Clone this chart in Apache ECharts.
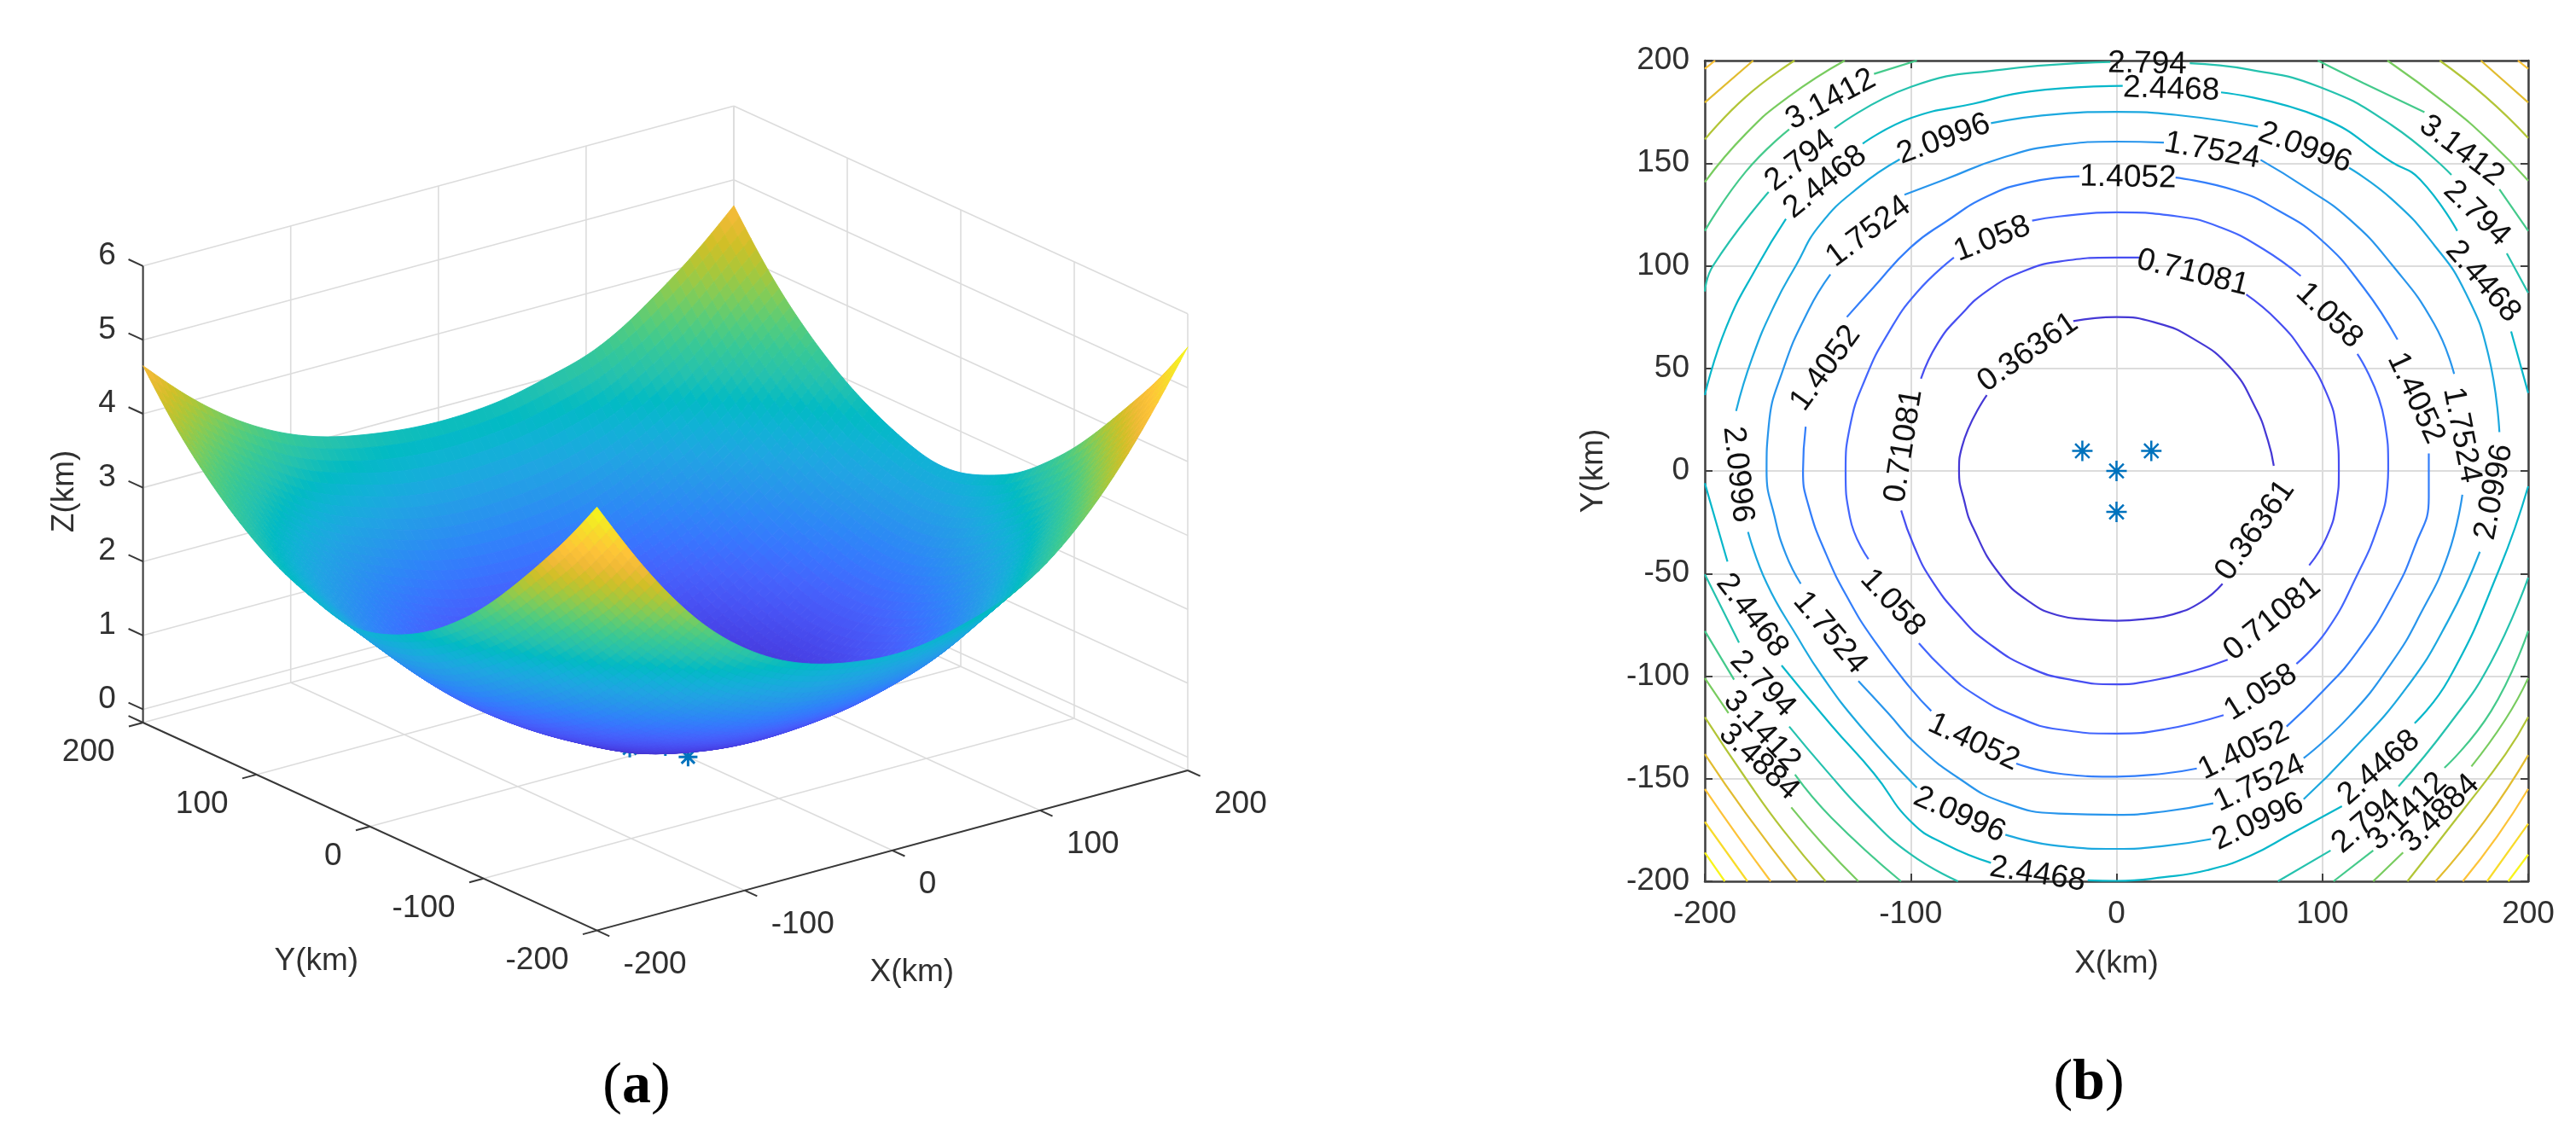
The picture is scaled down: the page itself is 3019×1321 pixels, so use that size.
<!DOCTYPE html>
<html><head><meta charset="utf-8"><style>html,body{margin:0;padding:0;background:#fff}#c{width:3019px;height:1321px}</style>
<script src="https://cdn.jsdelivr.net/npm/echarts@6/dist/echarts.min.js"></script></head><body><div id="c"></div>
<script>
// ---------- (a) surface heights (km), one list per X, Y = -200..200 step 25
const zXm200=[5.55,4.95,4.43,3.93,3.47,3.10,2.79,2.58,2.43,2.40,2.55,2.70,2.94,3.25,3.63,4.08,4.65];
const zXm175=[4.75,4.16,3.72,3.28,2.84,2.51,2.20,1.95,1.87,1.89,2.12,2.27,2.45,2.75,3.12,3.60,4.16];
const zXm150=[4.06,3.53,3.04,2.63,2.30,1.95,1.65,1.45,1.37,1.41,1.58,1.73,2.00,2.30,2.72,3.20,3.75];
const zXm125=[3.49,3.02,2.60,2.12,1.72,1.44,1.20,1.02,.95,.98,1.17,1.35,1.62,1.92,2.30,2.82,3.42];
const zXm100=[3.08,2.53,2.05,1.66,1.32,1.00,.80,.67,.63,.68,.83,.98,1.28,1.60,2.02,2.50,3.17];
const zXm75=[2.78,2.26,1.75,1.37,1.00,.76,.55,.42,.38,.42,.53,.70,.98,1.37,1.83,2.37,3.00];
const zXm50=[2.60,2.01,1.52,1.13,.81,.55,.30,.17,.14,.18,.30,.50,.78,1.17,1.67,2.20,2.90];
const zXm25=[2.50,1.93,1.45,1.04,.70,.41,.22,.09,.05,.09,.20,.40,.69,1.08,1.56,2.12,2.83];
const zX0=[2.45,1.92,1.39,1.02,.67,.385,.18,.06,.02,.05,.17,.36,.66,1.04,1.53,2.10,2.80];
const zX25=[2.49,1.94,1.46,1.04,.71,.43,.22,.09,.05,.10,.22,.42,.71,1.06,1.54,2.14,2.82];
const zX50=[2.63,2.02,1.55,1.15,.80,.55,.31,.18,.14,.18,.32,.55,.84,1.20,1.60,2.20,2.88];
const zX75=[2.78,2.27,1.72,1.37,1.02,.79,.55,.42,.37,.42,.54,.70,1.00,1.35,1.77,2.34,3.02];
const zX100=[3.05,2.56,2.12,1.66,1.31,1.00,.82,.67,.62,.67,.84,1.00,1.26,1.62,2.05,2.50,3.14];
const zX125=[3.49,3.02,2.60,2.12,1.70,1.41,1.20,1.04,.97,.99,1.17,1.35,1.62,1.92,2.33,2.84,3.40];
const zX150=[4.05,3.54,3.05,2.59,2.23,1.88,1.63,1.46,1.38,1.44,1.62,1.74,1.97,2.28,2.70,3.15,3.77];
const zX175=[4.75,4.18,3.71,3.12,2.76,2.48,2.18,1.96,1.88,1.93,2.03,2.14,2.45,2.77,3.17,3.66,4.16];
const zX200=[5.55,4.93,4.43,3.93,3.47,3.10,2.77,2.58,2.42,2.40,2.53,2.71,2.94,3.25,3.62,4.08,4.65];
const surfaceZ=[zXm200,zXm175,zXm150,zXm125,zXm100,zXm75,zXm50,zXm25,zX0,zX25,zX50,zX75,zX100,zX125,zX150,zX175,zX200];
const xyTicks3d=[-200,-100,0,100,200];
const zTicks3d=[0,1,2,3,4,5,6];
const zFloor=-0.18;
// sensors
const sensorX=[0,-16.6,16.9,0];
const sensorY=[0,9.8,9.8,-20];
// ---------- (b) contour lines; each level is a list of runs between its labels
const levels=[0.36361,0.71081,1.058,1.4052,1.7524,2.0996,2.4468,2.794,3.1412,3.4884,3.8356,4.18,4.53,4.87,5.22];
const c036=[[[-63,37],[-75,12],[-76.5,0],[-74,-14.5],[-69.5,-28],[-57,-50],[-42,-64],[-28,-70.5],[-14,-72.4],[0,-73],[13.5,-72.2],[27,-70],[41,-64],[51.5,-55]],
 [[76.4,2.5],[73.6,14.7],[67.4,31],[55,50.7],[37,64.6],[20,72],[0,75],[-21,73]]];
const c071=[[[-104.6,-19.3],[-98.4,-36.6],[-90,-53],[-76,-71],[-62.5,-83.7],[-42,-96],[-21,-102],[0,-104],[16,-102.4],[37,-97.6],[54,-92]],
 [[93.6,-46],[102,-32.4],[106.8,-15.8],[108,0],[106.8,20],[102,38],[90.8,57.6],[78.4,73],[63,86]],
 [[11,104],[0,104],[-28,102],[-46,97],[-62.5,88],[-76,75.7],[-87,62],[-95,45]]];
const c106=[[[-41,122],[-28,124],[0,126],[30,124],[50.8,118.6],[71.5,108],[89.5,95]],
 [[117,57],[130.2,24.4],[132,1],[131.6,-7.5],[127,-27],[117,-50.5],[102,-78],[87.4,-94]],
 [[52,-119],[23,-126],[0,-128],[-28,-126],[-48.7,-119.7],[-69.4,-108.7],[-83,-97.6],[-96,-84]],
 [[-120.5,-43],[-129.5,-22.7],[-131.6,0],[-129.5,21.6],[-122,45],[-111,67],[-97,87],[-79,104]]];
const c141=[[[28.7,143],[57.7,136.7],[78.4,127],[99,113],[119.9,89.5],[136.5,64]],
 [[151.7,8.5],[151.7,-13],[145,-36.6],[133.7,-61.5],[117,-88],[100.6,-107],[82.6,-124.6]],
 [[39,-145],[23,-147.5],[0,-149],[-28,-147.5],[-48.7,-142.6]],
 [[-90,-117],[-100,-106],[-118,-82.3],[-130,-63],[-141,-40.7],[-149.6,-17],[-152.3,0],[-151,21.6]],
 [[-131,75],[-118,89.5],[-100,109],[-83,121.4],[-62.5,134],[-41.8,140.8],[-18,143.6]]];
const c175=[[[70,151.6],[92,138],[113,122.8],[133.7,100.6],[154.4,71.5],[164,47.3]],
 [[168,-11.6],[161,-41],[147.5,-70],[133.7,-93.4],[113,-119.7],[90.9,-140]],
 [[47,-162],[23,-166],[0,-167.6],[-28,-167],[-55.6,-161.3],[-76.3,-150],[-97,-133.6],[-111,-118],[-125.4,-102.4]],
 [[-153.4,-55],[-160.6,-40.7],[-166,-22.7],[-170,0],[-169,21.6],[-162,49.3],[-149.6,78.4],[-139,95.8]],
 [[-103,134.6],[-83,142.2],[-55.6,152.6],[-28,158.8],[0,160.5],[23,160]]];
const c210=[[[-61,169.5],[-28,174],[0,175],[30,173.4],[68.7,167.8]],
 [[113,147.7],[133.7,132.5],[154.4,110],[169.6,86.8],[180.7,56.3],[186,18.9]],
 [[176.5,-39.4],[161.3,-72.6],[140.6,-106],[113,-137.8],[90.9,-160]],
 [[45.9,-179.4],[23,-182.8],[0,-184.2],[-28,-182.8],[-54,-177.3]],
 [[-97,-154.4],[-124.7,-124],[-143,-100],[-155,-81],[-170,-54.6],[-179,-29.7]],
 [[-184.8,29.2],[-177,55],[-166,81.2],[-155.8,100],[-144,120],[-124.7,138.7],[-105.3,151.9]]];
const c245=[[[3,187.7],[-41.8,185],[-69.4,179],[-99.8,172],[-123.3,159.5]],
 [[-160.6,122.8],[-174.4,100],[-189.6,70],[-200,37]],
 [[50.8,184.5],[99,172.4],[133.7,150.5],[147.5,142],[165.5,117]],
 [[191.7,68],[200,38]],
 [[200,-7.5],[186,-47.7],[161.3,-101.7],[144.8,-123]],
 [[109.5,-163.4],[85.3,-176.6],[64.6,-187.7],[44,-194.6],[23,-198],[0,-199.8],[-14,-199.5]],
 [[-61,-191],[-83,-182],[-99.8,-171],[-117.8,-147.5],[-138.5,-124],[-162.7,-94.8]],
 [[-189,-44.2],[-200,-6]]];
const c279=[[[-3,199.3],[-55.6,195.6],[-99.8,187.2],[-137,167]],
 [[-169,136],[-196,100],[-200,87.5]],
 [[35.6,198.7],[64.6,195.6],[99,187],[133.7,168.5],[162.7,144.3]],
 [[189.6,106],[200,86.8]],
 [[200,-52],[182,-93],[161.3,-124],[137,-153.7]],
 [[104,-185],[78.4,-200]],
 [[-77,-200],[-99.8,-187],[-122,-167],[-141,-146],[-159,-124.6]],
 [[-183.4,-83.7],[-200,-50.4]]];
const c314=[[[-97,200],[-117.8,193.5]],[[-159,166.5],[-180,146],[-200,117]],
 [[97.8,200],[120,189],[149.6,174.8]],[[186,137.3],[200,117]],
 [[-200,-78],[-185.8,-101.7]],[[-156.2,-148],[-138.5,-169],[-104.7,-200]],
 [[105.4,-200],[124.7,-185]],[[159.3,-144.7],[182,-117],[200,-78]]];
const c349=[[[-132,200],[-159,182.6],[-180,164.4],[-200,140.8]],
 [[131.6,200],[161.3,178],[182,160],[200,141.5]],
 [[-200,-101],[-188.5,-118]],[[-158,-164],[-142.6,-182],[-125.4,-200]],
 [[124.7,-200],[139.2,-186]],[[172.4,-144],[189,-121],[200,-101]]];
const c384=[[[-156.4,200],[-180,182.4],[-200,161.6]],[[157,200],[179.3,182.4],[200,162.3]],
 [[-200,-120],[-180,-150],[-162,-175],[-141.3,-200]],[[141.3,-200],[168.2,-165.5],[189,-138],[200,-120]]];
const c418=[[[-176.5,200],[-200,179.6]],[[177,200],[200,179.6]],
 [[-200,-138],[-180,-167],[-155,-200]],[[155,-200],[179.3,-170],[200,-138.5]]];
const c453=[[[-195,200],[-200,196]],[[195,200],[200,196]],
 [[-200,-155],[-184,-178],[-168,-200]],[[168.2,-200],[185,-178],[200,-155]]];
const c487=[[[-200,-171],[-179.3,-200]],[[180,-200],[200,-172]]];
const c522=[[[-200,-186],[-190.3,-200]],[[190.3,-200],[200,-187]]];
const contourRuns=[c036,c071,c106,c141,c175,c210,c245,c279,c314,c349,c384,c418,c453,c487,c522];
// contour labels
const labelText=["3.1412","2.794","2.4468","2.0996","1.7524","1.058","1.4052","0.36361","0.71081","2.0996",
 "2.794","2.4468","1.7524","2.0996","1.4052","0.71081","1.058","3.1412","2.794","2.4468","1.4052","1.7524","2.0996",
 "1.058","1.7524","2.4468","2.794","3.1412","3.4884","1.4052","2.0996","2.4468",
 "0.36361","0.71081","1.058","1.4052","1.7524","2.0996","2.4468","2.794","3.1412","3.4884"];
const labelX=[-138.8,-153.7,-141.5,-84,-120.5,-60.4,-141.3,-43,-103.3,-184,
 14.9,26.6,46.4,91.6,5.6,37,103.3,167.6,175,178,145.4,167.6,183.4,
 -108.8,-139.2,-177,-171.9,-172.3,-173.7,-69.4,-76.3,-38.3,
 67.4,75.7,70.1,61.8,69.4,68.8,127.5,121.3,141.3,157.2];
const labelY=[181,151.2,140.8,161.6,116.6,113,50,57.7,12.2,-1.7,
 198.3,185.9,156,157.5,142.9,96.5,75.7,156,125.5,92.3,35.5,17.5,-10.3,
 -64.3,-78.9,-70.5,-103.8,-126.7,-141.9,-132.2,-167.6,-196.7,
 -29,-72,-108,-136.4,-152.3,-171,-144.7,-171,-166,-167];
const labelAngle=[28,38,39,20,37,21,54,35,81,-84,
 -1,-2,-10,-20,-1,-14,-44,-37,-44,-49,-65,-79,79,
 -47,-50,-52,-46,-47,-43,-25,-24,-9,
 55,39,32,26,25,25,41,41,44,45];

// ---------- styling
const parula=[[.2422,.1504,.6603],[.2647,.1978,.7952],[.2783,.2559,.8991],[.2810,.3228,.9579],[.2699,.3892,.9906],[.2206,.4603,.9973],[.1786,.5289,.9682],[.1540,.5902,.9218],[.1248,.6459,.8883],[.0689,.6948,.8394],[.0067,.7312,.7660],[.1408,.7584,.6842],[.2161,.7843,.5923],[.3406,.8008,.4789],[.5044,.7993,.3480],[.6720,.7793,.2227],[.8203,.7498,.1535],[.9393,.7288,.2100],[.9970,.7659,.2199],[.9786,.8386,.1766],[.9597,.9135,.1423],[.9769,.9839,.0805]];
function parulaColor(t){t=Math.max(0,Math.min(1,t))*(parula.length-1);const i=Math.min(parula.length-2,Math.floor(t)),f=t-i;
 const c=[0,1,2].map(k=>Math.round(255*(parula[i][k]*(1-f)+parula[i+1][k]*f)));return 'rgb('+c.join(',')+')';}
const FONT='"Liberation Sans", Arial, sans-serif',TXT='#303030',FS=37,GRIDC='#dcdcdc',STAR='#0072BD';
const STAR_PATH='path://M0 -10V10M-10 0H10M-7 -7L7 7M-7 7L7 -7';

// ---------- projection of the 3D axes onto the hidden plane axes (orthographic view)
const pU=(X,Y)=>1.731*X-1.33*Y;
const pV=(X,Y,Z)=>0.469*X+0.609*Y+86.6*(Z-zFloor);
const seg=(a,b)=>[pU(a[0],a[1]),pV(a[0],a[1],a[2]),pU(b[0],b[1]),pV(b[0],b[1],b[2])];
const X0=-200,X1=200,Y0=-200,Y1=200,ZT=6;
const gridSegs=[];
xyTicks3d.forEach(t=>{
 gridSegs.push(seg([t,Y0,zFloor],[t,Y1,zFloor]),seg([X0,t,zFloor],[X1,t,zFloor]));
 gridSegs.push(seg([t,Y1,zFloor],[t,Y1,ZT]),seg([X1,t,zFloor],[X1,t,ZT]));
});
zTicks3d.forEach(z=>{gridSegs.push(seg([X0,Y1,z],[X1,Y1,z]),seg([X1,Y0,z],[X1,Y1,z]));});
const axisSegs=[seg([X0,Y1,zFloor],[X0,Y1,ZT]),seg([X0,Y0,zFloor],[X0,Y1,zFloor]),seg([X0,Y0,zFloor],[X1,Y0,zFloor])];
zTicks3d.forEach(z=>axisSegs.push(seg([X0,Y1,z],[X0,Y1+12.8,z])));
axisSegs.push(seg([X0,Y1,zFloor],[X0,Y1+12.8,zFloor]));
xyTicks3d.forEach(t=>{axisSegs.push(seg([X0,t,zFloor],[X0-9.6,t,zFloor]),seg([t,Y0,zFloor],[t,Y0-11,zFloor]));});

// drawing mesh for the surface: cubic B-spline over the table (passes through the four corners)
const n=surfaceZ.length,REF=5,M=(n-1)*REF;
function tz(i,j){
 if(i<0)return 2*tz(0,j)-tz(1,j); if(i>n-1)return 2*tz(n-1,j)-tz(n-2,j);
 if(j<0)return 2*tz(i,0)-tz(i,1); if(j>n-1)return 2*tz(i,n-1)-tz(i,n-2);
 return surfaceZ[i][j];}
const basis=f=>[(1-f)*(1-f)*(1-f)/6,(3*f*f*f-6*f*f+4)/6,(-3*f*f*f+3*f*f+3*f+1)/6,f*f*f/6];
function meshZ(a,b){const i=Math.min(n-2,Math.floor(a/REF)),j=Math.min(n-2,Math.floor(b/REF));
 const bi=basis(a/REF-i),bj=basis(b/REF-j);let s=0;
 for(let p=0;p<4;p++)for(let q=0;q<4;q++)s+=bi[p]*bj[q]*tz(i+p-1,j+q-1);return s;}
const meshKm=a=>-200+a*(400/M);
const zGrid=[];for(let a=0;a<=M;a++){zGrid.push([]);for(let b=0;b<=M;b++)zGrid[a].push(meshZ(a,b));}
const cells=[];
for(let a=M-1;a>=0;a--)for(let b=M-1;b>=0;b--){
 const xs=[a,a+1,a+1,a],ys=[b,b,b+1,b+1],row=[];let s=0;
 for(let k=0;k<4;k++){const X=meshKm(xs[k]),Y=meshKm(ys[k]),Z=zGrid[xs[k]][ys[k]];s+=Z;row.push(pU(X,Y),pV(X,Y,Z));}
 row.push(s/4);cells.push(row);}
const zMin=0.0164,zMax=5.57,contourMax=5.3;

function segItem(style){return (p,api)=>{const a=api.coord([api.value(0),api.value(1)]),b=api.coord([api.value(2),api.value(3)]);
 return {type:'line',shape:{x1:a[0],y1:a[1],x2:b[0],y2:b[1]},style:style};};}
const texts3d=[];
zTicks3d.forEach(z=>texts3d.push({t:String(z),u:pU(X0,Y1)-42,v:pV(X0,Y1,z)+12,a:'center'}));
xyTicks3d.forEach(y=>texts3d.push({t:String(y),u:pU(X0,y)-33,v:pV(X0,y,zFloor)-35,a:'right'}));
xyTicks3d.forEach(x=>texts3d.push({t:String(x),u:pU(x,Y0)+31,v:pV(x,Y0,zFloor)-40,a:'left'}));
const titles3d=[{t:'X(km)',u:289,v:-265},{t:'Y(km)',u:-409,v:-252}];

const contourSeries=levels.map((lv,i)=>({type:'line',name:String(lv),xAxisIndex:1,yAxisIndex:1,silent:true,showSymbol:false,smooth:0.5,animation:false,z:3,
 lineStyle:{width:2.2,color:parulaColor((lv-zMin)/(contourMax-zMin))},
 data:contourRuns[i].reduce((acc,run,k)=>{if(k)acc.push([null,null]);return acc.concat(run);},[])}));

const chart=echarts.init(document.getElementById('c'),null,{renderer:'canvas'});
const captionRich={n:{fontFamily:'"Liberation Serif",serif',fontSize:68,fill:'#000',color:'#000'},b:{fontFamily:'"Liberation Serif",serif',fontSize:68,fontWeight:'bold',fill:'#000',color:'#000'}};
chart.setOption({animation:false,backgroundColor:'#fff',tooltip:{show:false},
 grid:[{left:0,top:0,width:1500,height:1200,show:false},{left:1998,top:71,width:965,height:962,show:true,backgroundColor:'transparent',borderWidth:0}],
 xAxis:[
  {type:'value',gridIndex:0,min:-779.8,max:720.2,show:false},
  {type:'value',gridIndex:1,min:-200,max:200,interval:100,position:'bottom',
   axisLine:{show:true,onZero:false,lineStyle:{color:'#404040',width:2.5}},axisTick:{show:true,inside:true,length:9,lineStyle:{color:'#404040',width:2}},
   axisLabel:{show:true,color:TXT,fontFamily:FONT,fontSize:FS,margin:20,showMinLabel:true,showMaxLabel:true},
   splitLine:{show:true,lineStyle:{color:GRIDC,width:2}},name:'X(km)',nameLocation:'middle',nameGap:78,nameTextStyle:{color:TXT,fontFamily:FONT,fontSize:FS}},
  {type:'value',gridIndex:1,min:-200,max:200,interval:100,position:'top',
   axisLine:{show:true,onZero:false,lineStyle:{color:'#404040',width:2.5}},axisTick:{show:true,inside:true,length:9,lineStyle:{color:'#404040',width:2}},axisLabel:{show:false},splitLine:{show:false}}],
 yAxis:[
  {type:'value',gridIndex:0,min:-325,max:875,show:false},
  {type:'value',gridIndex:1,min:-200,max:200,interval:50,position:'left',
   axisLine:{show:true,onZero:false,lineStyle:{color:'#404040',width:2.5}},axisTick:{show:true,inside:true,length:9,lineStyle:{color:'#404040',width:2}},
   axisLabel:{show:true,color:TXT,fontFamily:FONT,fontSize:FS,margin:18,showMinLabel:true,showMaxLabel:true},
   splitLine:{show:true,lineStyle:{color:GRIDC,width:2}},name:'Y(km)',nameLocation:'middle',nameGap:112,nameTextStyle:{color:TXT,fontFamily:FONT,fontSize:FS}},
  {type:'value',gridIndex:1,min:-200,max:200,interval:50,position:'right',
   axisLine:{show:true,onZero:false,lineStyle:{color:'#404040',width:2.5}},axisTick:{show:true,inside:true,length:9,lineStyle:{color:'#404040',width:2}},axisLabel:{show:false},splitLine:{show:false}}],
 graphic:[
  {type:'text',x:746,y:1274,z:10,style:{text:'{n|(}{b|a}{n|)}',align:'center',verticalAlign:'middle',rich:captionRich}},
  {type:'text',x:2448,y:1270,z:10,style:{text:'{n|(}{b|b}{n|)}',align:'center',verticalAlign:'middle',rich:captionRich}}
 ],
 series:[
  {type:'custom',name:'3D grid',xAxisIndex:0,yAxisIndex:0,silent:true,z:1,clip:false,progressive:0,data:gridSegs,encode:{x:[0,2],y:[1,3]},
   renderItem:segItem({stroke:GRIDC,lineWidth:1.6})},
  {type:'custom',name:'3D axes',xAxisIndex:0,yAxisIndex:0,silent:true,z:1,clip:false,progressive:0,data:axisSegs,encode:{x:[0,2],y:[1,3]},
   renderItem:segItem({stroke:'#383838',lineWidth:2})},
  {type:'scatter',name:'sensors 3D',xAxisIndex:0,yAxisIndex:0,silent:true,z:1,symbol:STAR_PATH,symbolSize:22,
   itemStyle:{color:'none',borderColor:STAR,borderWidth:3,opacity:1},
   data:sensorX.map((x,i)=>[pU(x,sensorY[i]),pV(x,sensorY[i],zFloor)])},
  {type:'custom',name:'surface',xAxisIndex:0,yAxisIndex:0,silent:true,z:2,clip:false,progressive:0,data:cells,encode:{x:[0,2,4,6],y:[1,3,5,7]},
   renderItem:(p,api)=>{const pts=[];for(let k=0;k<4;k++)pts.push(api.coord([api.value(2*k),api.value(2*k+1)]));
    const col=parulaColor((api.value(8)-zMin)/(zMax-zMin));
    return {type:'polygon',shape:{points:pts},style:{fill:col,stroke:col,lineWidth:0.9}};}},
  {type:'custom',name:'3D labels',xAxisIndex:0,yAxisIndex:0,silent:true,z:4,clip:false,progressive:0,data:texts3d.map((o,i)=>[o.u,o.v,i]),encode:{x:0,y:1},
   renderItem:(p,api)=>{const c=api.coord([api.value(0),api.value(1)]),o=texts3d[api.value(2)];
    return {type:'text',x:c[0],y:c[1],style:{text:o.t,fill:TXT,font:FS+'px '+FONT,align:o.a,verticalAlign:'middle'}};}},
  {type:'custom',name:'3D titles',xAxisIndex:0,yAxisIndex:0,silent:true,z:4,clip:false,progressive:0,data:titles3d.map((o,i)=>[o.u,o.v,i]),encode:{x:0,y:1},
   renderItem:(p,api)=>{const c=api.coord([api.value(0),api.value(1)]),o=titles3d[api.value(2)];
    return {type:'text',x:c[0],y:c[1],style:{text:o.t,fill:TXT,font:FS+'px '+FONT,align:'center',verticalAlign:'middle'}};}},
  {type:'custom',name:'Z title',xAxisIndex:0,yAxisIndex:0,silent:true,z:4,clip:false,progressive:0,data:[[pU(X0,Y1)-92,pV(X0,Y1,2.95)]],encode:{x:0,y:1},
   renderItem:(p,api)=>{const c=api.coord([api.value(0),api.value(1)]);
    return {type:'text',x:c[0],y:c[1],rotation:Math.PI/2,style:{text:'Z(km)',fill:TXT,font:FS+'px '+FONT,align:'center',verticalAlign:'middle'}};}},
  ...contourSeries,
  {type:'scatter',name:'sensors',xAxisIndex:1,yAxisIndex:1,silent:true,z:4,symbol:STAR_PATH,symbolSize:24,
   itemStyle:{color:'none',borderColor:STAR,borderWidth:2.5,opacity:1},data:sensorX.map((x,i)=>[x,sensorY[i]])},
  {type:'custom',name:'contour labels',xAxisIndex:1,yAxisIndex:1,silent:true,z:5,clip:false,progressive:0,data:labelText.map((t,i)=>[labelX[i],labelY[i],labelAngle[i],i]),encode:{x:0,y:1},
   renderItem:(p,api)=>{const c=api.coord([api.value(0),api.value(1)]);
    return {type:'text',x:c[0],y:c[1],rotation:api.value(2)*Math.PI/180,style:{text:labelText[api.value(3)],fill:'#111',font:FS+'px '+FONT,align:'center',verticalAlign:'middle'}};}}
 ]});
</script></body></html>
